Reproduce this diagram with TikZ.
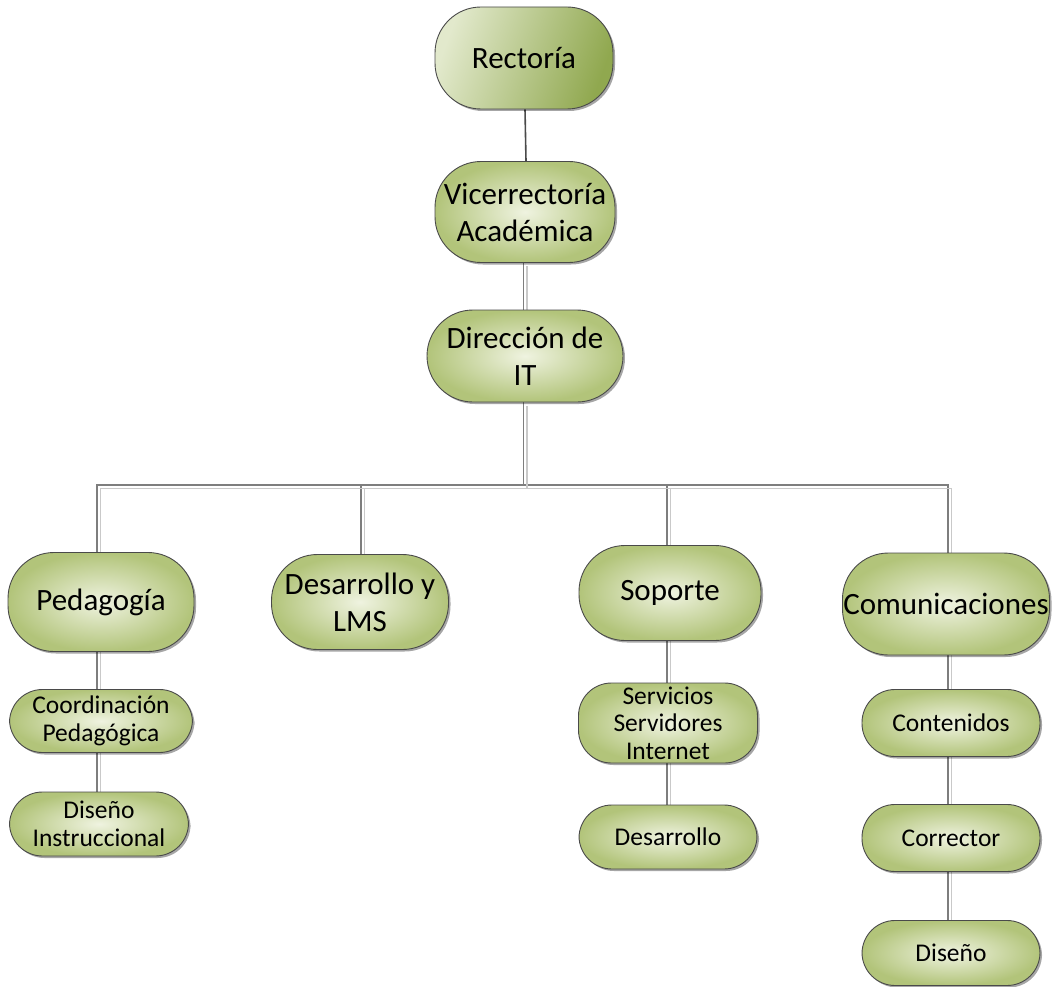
\documentclass[tikz,border=0pt]{standalone}
\usepackage{fontspec}
\setmainfont{Carlito}
\usetikzlibrary{shadows,backgrounds}
\definecolor{olivein}{HTML}{EFF3E0}
\definecolor{oliveout}{HTML}{B2C47A}
\definecolor{rectin}{HTML}{E2E9CC}
\definecolor{rectout}{HTML}{90A84F}
\definecolor{boxline}{HTML}{4A4A4A}
\definecolor{cdarkc}{HTML}{7E7E7E}
\definecolor{clightc}{HTML}{C9C9C9}
\tikzset{
  box/.style={draw=boxline, line width=0.9pt, inner sep=0pt, align=center,
    inner color=olivein, outer color=oliveout,
    drop shadow={shadow xshift=2pt, shadow yshift=-2pt, opacity=0.35, fill=black}},
  bigbox/.style={box, rounded corners=46pt, font=\fontsize{31}{37}\selectfont},
  smallbox/.style={box, rounded corners=33pt, font=\fontsize{25.5}{27.5}\selectfont},
  cdark/.style={draw=cdarkc, line width=1.1pt},
  clight/.style={draw=clightc, line width=1.1pt},
  csolid/.style={draw=boxline, line width=1.6pt},
}
\begin{document}
\begin{tikzpicture}[x=1pt, y=-1pt]
\useasboundingbox (0,0) rectangle (1052,987);
% top chain
\node[bigbox, minimum width=178pt, minimum height=102pt, left color=rectin, right color=rectout, shading angle=70] (rect) at (524,58) {Rectoría};
\node[bigbox, minimum width=180pt, minimum height=101pt] (vice) at (525,212) {Vicerrectoría\\Académica};
\node[bigbox, minimum width=196pt, minimum height=92pt] (dir) at (525,356) {Dirección de\\IT};
% second level
\node[bigbox, minimum width=186pt, minimum height=99pt] (ped) at (101,602) {Pedagogía};
\node[bigbox, minimum width=177pt, minimum height=95pt] (des) at (360,602) {Desarrollo y\\LMS};
\node[bigbox, minimum width=182pt, minimum height=95pt] (sop) at (670,593) {Soporte};
\node[bigbox, minimum width=207pt, minimum height=102pt] (com) at (946,604) {Comunicaciones};
% third level
\node[smallbox, minimum width=183pt, minimum height=63pt] (coord) at (101,721) {Coordinación\\Pedagógica};
\node[smallbox, minimum width=179pt, minimum height=64pt] (disI) at (99,824) {Diseño\\Instruccional};
\node[smallbox, minimum width=179pt, minimum height=80pt] (serv) at (668,723) {Servicios\\Servidores\\Internet};
\node[smallbox, minimum width=178pt, minimum height=64pt] (desa) at (668,837) {Desarrollo};
\node[smallbox, minimum width=178pt, minimum height=67pt] (cont) at (951,723) {Contenidos};
\node[smallbox, minimum width=178pt, minimum height=67pt] (corr) at (951,838) {Corrector};
\node[smallbox, minimum width=178pt, minimum height=65pt] (dis) at (951,953) {Diseño};
\coordinate (bus) at (523.5,485);
\coordinate (colP) at (97,0);
\coordinate (colD) at (361,0);
\coordinate (colS) at (667,0);
\coordinate (colC) at (948,0);
\begin{scope}[on background layer]
  \draw[csolid] ([xshift=1pt]rect.south) -- ([xshift=1pt]vice.north);
  \foreach \s/\st in {0/cdark, 3.5/clight} {
    \begin{scope}[transform canvas={xshift=\s pt, yshift=-\s pt}]
      \draw[\st] ([xshift=-1.5pt]vice.south) -- ([xshift=-1.5pt]dir.north);
      \draw[\st] ([xshift=-1.5pt]dir.south) -- (bus);
      \draw[\st] (colP |- ped.north) |- (bus) -| (colC |- com.north);
      \draw[\st] (colD |- des.north) -- (colD |- bus);
      \draw[\st] (colS |- sop.north) -- (colS |- bus);
    \end{scope}
    \begin{scope}[transform canvas={xshift=\s pt}]
      \draw[\st] (colP |- ped.south) -- (colP |- coord.north);
      \draw[\st] (colP |- coord.south) -- (colP |- disI.north);
      \draw[\st] (colS |- sop.south) -- (colS |- serv.north);
      \draw[\st] (colS |- serv.south) -- (colS |- desa.north);
      \draw[\st] (colC |- com.south) -- (colC |- cont.north);
      \draw[\st] (colC |- cont.south) -- (colC |- corr.north);
      \draw[\st] (colC |- corr.south) -- (colC |- dis.north);
    \end{scope}
  }
\end{scope}
\end{tikzpicture}
\end{document}
